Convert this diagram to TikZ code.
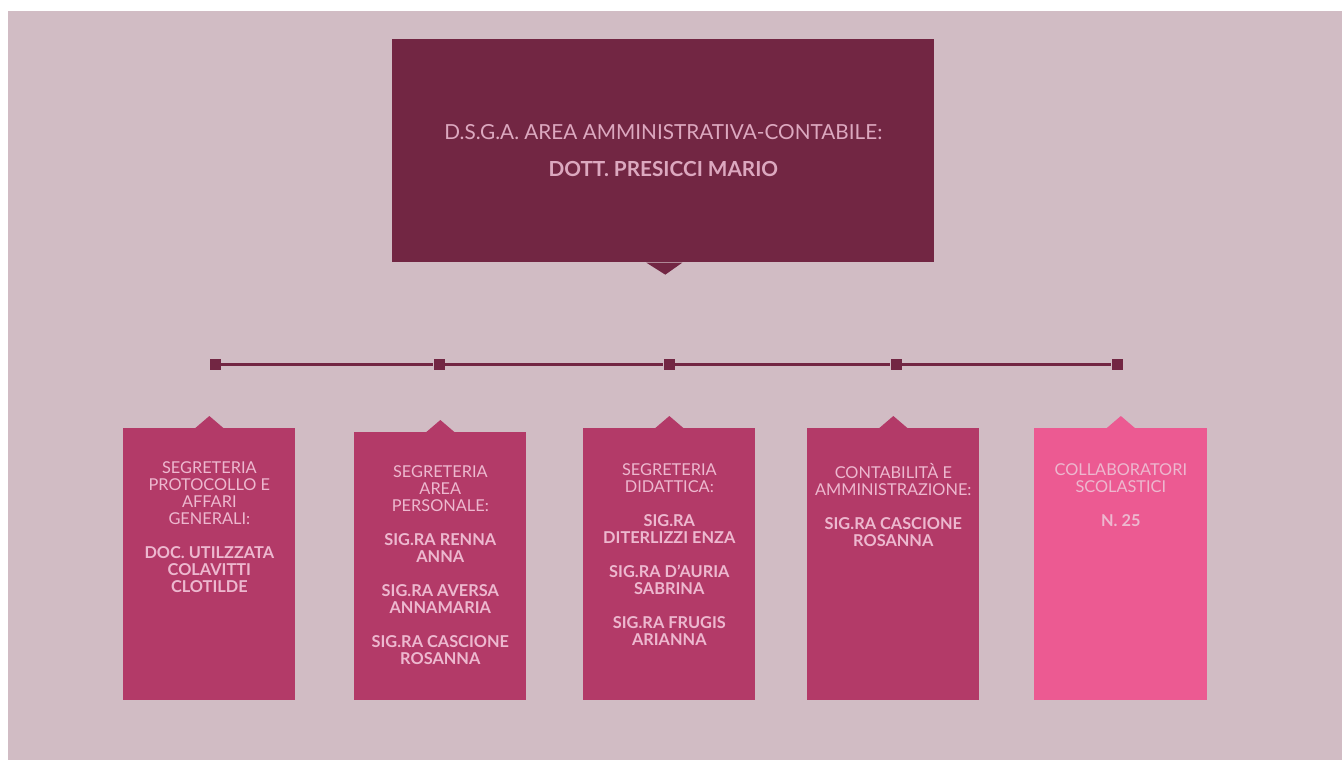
\documentclass[tikz,border=0pt]{standalone}
\usepackage{fontspec}
\setmainfont{Lato}
\usetikzlibrary{positioning,calc}
\definecolor{BgMauve}  {HTML}{D1BCC4}
\definecolor{WineRed}  {HTML}{722643}
\definecolor{BerryPink}{HTML}{B33A68}
\definecolor{HotPink}  {HTML}{EC5A92}
\definecolor{PaleRose} {HTML}{EDB8CF}
\definecolor{DustyRose}{HTML}{DCA8BF}
\tikzset{
  ubox/.style={rectangle,fill=#1,draw=none,anchor=north west,inner sep=0pt,
               minimum width=3.44cm,minimum height=5.44cm},
  utxt/.style={anchor=north,align=center,inner sep=0pt,
               font=\fontsize{9.3}{9.7}\selectfont,text=PaleRose},
  knot/.style={rectangle,fill=WineRed,minimum size=0.22cm,inner sep=0pt},
  bar/.style={line width=0.06cm,color=WineRed},
}

\begin{document}
\begin{tikzpicture}[x=0.02cm,y=-0.02cm]

  \useasboundingbox[fill=white] (0,0) rectangle (1342,760);
  \fill[BgMauve] (8,11) rectangle (1342,760);

  % top box
  \node[rectangle,fill=WineRed,anchor=north west,inner sep=0pt,
        minimum width=10.84cm,minimum height=4.46cm,align=center,
        font=\fontsize{11.8}{13}\selectfont,text=DustyRose] (dsga) at (392,39)
    {D.S.G.A. AREA AMMINISTRATIVA-CONTABILE:\\[8pt]
     \textbf{DOTT. PRESICCI MARIO}};
  \fill[WineRed] ($(dsga.south)+(-17,0)$) -- ($(dsga.south)+(2,12)$)
                 -- ($(dsga.south)+(19,0)$) -- cycle;

  % joints
  \node[knot] (j1) at (215,364) {};
  \node[knot] (j2) at (439,364) {};
  \node[knot] (j3) at (669,364) {};
  \node[knot] (j4) at (896,364) {};
  \node[knot] (j5) at (1117,364) {};
  \draw[bar] (j1) -- (j2) -- (j3) -- (j4) -- (j5);

  % offices
  \node[ubox=BerryPink] (segprot) at (123,428) {};
  \node[ubox=BerryPink,minimum height=5.36cm] (segpers) at (354,432) {};
  \node[ubox=BerryPink] (segdid) at (583,428) {};
  \node[ubox=BerryPink] (contab) at (807,428) {};
  \node[ubox=HotPink,minimum width=3.46cm] (collab) at (1034,428) {};

  \foreach \b/\c in {segprot/BerryPink,segpers/BerryPink,segdid/BerryPink,
                     contab/BerryPink,collab/HotPink}
    \fill[\c] ($(\b.north)+(-14,0)$) -- ($(\b.north)+(0,-12)$)
              -- ($(\b.north)+(14,0)$) -- cycle;

  \node[utxt] at ($(segprot.north)+(0,33)$)
    {SEGRETERIA\\PROTOCOLLO E\\AFFARI\\GENERALI:\\[9.7pt]
     \textbf{DOC. UTILZZATA}\\\textbf{COLAVITTI}\\\textbf{CLOTILDE}};
  \node[utxt] at ($(segpers.north)+(0,33)$)
    {SEGRETERIA\\AREA\\PERSONALE:\\[9.7pt]
     \textbf{SIG.RA RENNA}\\\textbf{ANNA}\\[9.7pt]
     \textbf{SIG.RA AVERSA}\\\textbf{ANNAMARIA}\\[9.7pt]
     \textbf{SIG.RA CASCIONE}\\\textbf{ROSANNA}};
  \node[utxt] at ($(segdid.north)+(0,35)$)
    {SEGRETERIA\\DIDATTICA:\\[9.7pt]
     \textbf{SIG.RA}\\\textbf{DITERLIZZI ENZA}\\[9.7pt]
     \textbf{SIG.RA D'AURIA}\\\textbf{SABRINA}\\[9.7pt]
     \textbf{SIG.RA FRUGIS}\\\textbf{ARIANNA}};
  \node[utxt] at ($(contab.north)+(0,35)$)
    {CONTABILITÀ E\\AMMINISTRAZIONE:\\[9.7pt]
     \textbf{SIG.RA CASCIONE}\\\textbf{ROSANNA}};
  \node[utxt] at ($(collab.north)+(0,35)$)
    {COLLABORATORI\\SCOLASTICI\\[9.7pt]
     \textbf{N. 25}};

\end{tikzpicture}
\end{document}
